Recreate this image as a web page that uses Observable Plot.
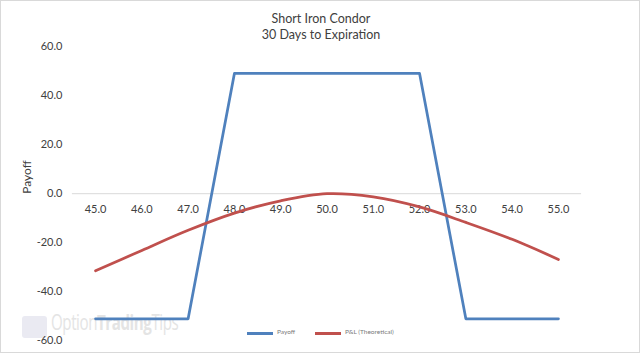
<!DOCTYPE html>
<html>
<head>
<meta charset="utf-8">
<script src="https://cdn.jsdelivr.net/npm/d3@7"></script>
<script src="https://cdn.jsdelivr.net/npm/@observablehq/plot@0.6"></script>
<style>
  html, body { margin: 0; padding: 0; background: #fff; }
  #wrap { position: relative; width: 640px; height: 353px; box-sizing: border-box; border: 1px solid #d9d9d9; overflow: hidden; font-family: Lato, "Liberation Sans", sans-serif; }
  #title { position: absolute; left: 0; top: 10px; width: 640px; text-align: center; font-size: 12.5px; line-height: 16px; color: #404040; }
  #chart { position: absolute; left: -1px; top: -1px; }
  #wm { position: absolute; left: 50px; top: 311px; color: #e4e4e4; font-size: 21px; line-height: 20px; height: 20px; white-space: nowrap; font-family: "Open Sans", sans-serif; letter-spacing: -0.6px; transform-origin: 0 0; transform: scaleX(0.72); }
  #wm b { font-weight: 700; }
  #logo { position: absolute; left: 21px; top: 315px; width: 25px; height: 22px; background: #eaeaf2; border-radius: 3px; }
  .leg { position: absolute; top: 327px; font-size: 6.5px; color: #7a7a7a; white-space: nowrap; }
  .legline { position: absolute; top: 331px; height: 3px; width: 26px; }
</style>
</head>
<body>
<div id="wrap">
  <div id="logo"></div>
  <div id="wm">Option<b>Trading</b>Tips</div>
  <div id="chart"></div>
  <div id="title">Short Iron Condor<br>30 Days to Expiration</div>
  <div class="legline" style="left:246px;background:#4f81bd"></div>
  <div class="leg" style="left:276px">Payoff</div>
  <div class="legline" style="left:314px;background:#c0504d"></div>
  <div class="leg" style="left:344px">P&amp;L (Theoretical)</div>
</div>
<script>
const prices = [45, 46, 47, 48, 49, 50, 51, 52, 53, 54, 55];
const payoff = [-51, -51, -51, 49, 49, 49, 49, 49, -51, -51, -51];
const pnl = [-31.4, -23.1, -14.9, -7.9, -2.9, 0.0, -1.3, -5.4, -11.7, -18.6, -26.8];
const yTicks = [-60, -40, -20, 0, 20, 40, 60];
const xTicks = prices;

const payoffData = prices.map((p, i) => ({ x: p, y: payoff[i] }));
const pnlData = prices.map((p, i) => ({ x: p, y: pnl[i] }));

const chart = Plot.plot({
  width: 640,
  height: 353,
  marginTop: 46,
  marginBottom: 12,
  marginLeft: 72,
  marginRight: 58,
  style: { fontFamily: "Lato, 'Liberation Sans', sans-serif", fontSize: "11px", color: "#404040", background: "transparent" },
  x: { domain: [44.5, 55.5], axis: null },
  y: { domain: [-60, 60], ticks: yTicks, tickFormat: d => d.toFixed(1), tickSize: 0, tickPadding: 10, label: null },
  marks: [
    Plot.ruleY([0], { stroke: "#d9d9d9", strokeWidth: 1 }),
    Plot.text(xTicks, { x: d => d, y: 0, text: d => d.toFixed(1), dy: 16, fill: "#404040", fontSize: 11 }),
    Plot.text(["Payoff"], { frameAnchor: "left", rotate: -90, dx: -45, fill: "#404040", fontSize: 12 }),
    Plot.line(payoffData, { x: "x", y: "y", stroke: "#4f81bd", strokeWidth: 2.75, strokeLinejoin: "round" }),
    Plot.line(pnlData, { x: "x", y: "y", stroke: "#c0504d", strokeWidth: 2.75, curve: "catmull-rom" })
  ]
});
document.getElementById("chart").appendChild(chart);
</script>
</body>
</html>
